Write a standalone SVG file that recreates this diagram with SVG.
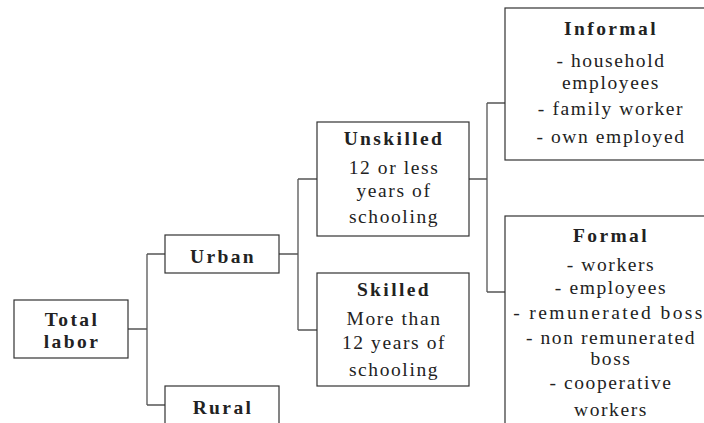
<svg xmlns="http://www.w3.org/2000/svg" width="704" height="423" viewBox="0 0 704 423">
<style>
.box{fill:#fff;stroke:#333;stroke-width:1.2}
.con{fill:none;stroke:#555;stroke-width:1.3}
text{font-family:"Liberation Serif","DejaVu Serif",serif;font-size:19.5px;fill:#222;text-anchor:middle;letter-spacing:1.6px}
.t{font-weight:bold;letter-spacing:2.4px}
</style>
<rect width="704" height="423" fill="#fff"/>
<g id="connectors">
<path class="con" d="M128,329H147M147,254V405M147,254H165M147,405H165"/>
<path class="con" d="M279,254H298M298,179V330M298,179H317M298,330H317"/>
<path class="con" d="M469,179H487M487,103V292M487,103H505M487,292H505"/>
</g>
<g id="total">
<rect class="box" x="14" y="300" width="114" height="58"/>
<text class="t" x="72" y="326">Total</text>
<text class="t" x="72" y="348">labor</text>
</g>
<g id="urban">
<rect class="box" x="165" y="235" width="114" height="38"/>
<text class="t" x="223" y="263">Urban</text>
</g>
<g id="rural">
<rect class="box" x="165" y="386" width="114" height="50"/>
<text class="t" x="223" y="414">Rural</text>
</g>
<g id="unskilled">
<rect class="box" x="317" y="122" width="152" height="114"/>
<text class="t" x="394" y="145">Unskilled</text>
<text x="394" y="174">12 or less</text>
<text x="394" y="197">years of</text>
<text x="394" y="223">schooling</text>
</g>
<g id="skilled">
<rect class="box" x="317" y="273" width="152" height="113"/>
<text class="t" x="394" y="296">Skilled</text>
<text x="394" y="325">More than</text>
<text x="394" y="349">12 years of</text>
<text x="394" y="376">schooling</text>
</g>
<g id="informal">
<rect class="box" x="505" y="8" width="210" height="152"/>
<text class="t" x="611" y="35">Informal</text>
<text x="611" y="67">- household</text>
<text x="611" y="89">employees</text>
<text x="611" y="115">- family worker</text>
<text x="611" y="143">- own employed</text>
</g>
<g id="formal">
<rect class="box" x="505" y="216" width="210" height="220"/>
<text class="t" x="611" y="242">Formal</text>
<text x="611" y="271">- workers</text>
<text x="611" y="294">- employees</text>
<text x="609" y="319" style="letter-spacing:2.4px">- remunerated boss</text>
<text x="611" y="344">- non remunerated</text>
<text x="611" y="365">boss</text>
<text x="611" y="389">- cooperative</text>
<text x="611" y="416">workers</text>
</g>
</svg>
